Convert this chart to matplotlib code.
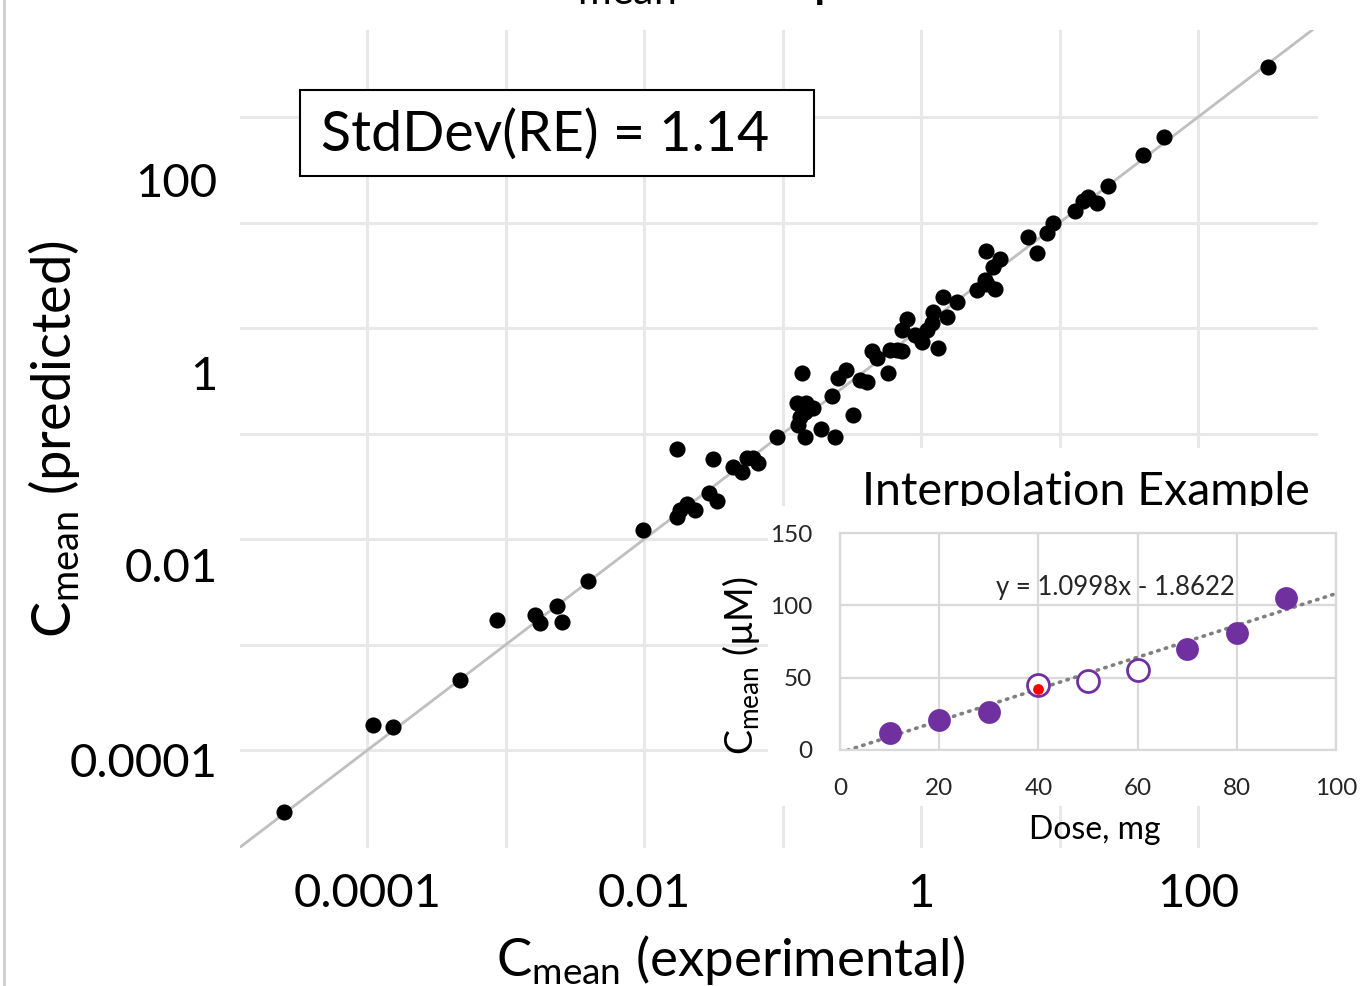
import numpy as np
import matplotlib
matplotlib.use("Agg")
import matplotlib.pyplot as plt
from matplotlib.patches import Rectangle
from matplotlib.lines import Line2D
from matplotlib.transforms import ScaledTranslation
from matplotlib.ticker import FixedLocator, NullFormatter

plt.rcParams['font.family'] = ['Lato', 'DejaVu Sans']
plt.rcParams['mathtext.fontset'] = 'custom'
plt.rcParams['mathtext.rm'] = 'Lato'
plt.rcParams['mathtext.it'] = 'Lato:italic'
plt.rcParams['mathtext.bf'] = 'Lato:bold'

# main chart: experimental vs predicted Cmean
c_exp = [2.48e-5, 1.09e-4, 1.54e-4, 4.69e-4, 8.69e-4, 1.63e-3, 1.77e-3, 2.35e-3, 2.56e-3,
         3.94e-3, 9.84e-3, 1.73e-2, 1.73e-2, 1.82e-2, 2.04e-2, 2.33e-2, 2.94e-2, 3.36e-2,
         3.15e-2, 4.39e-2, 5.10e-2, 5.55e-2, 6.12e-2, 6.65e-2, 9.12e-2,
         0.145, 0.239, 0.190, 0.323, 0.129, 0.127, 0.138, 0.145, 0.166, 0.228,
         0.252, 0.287, 0.363, 0.408, 0.443, 0.481, 0.578, 0.597, 0.671, 0.729,
         0.729, 0.792, 0.906, 1.02, 1.10, 1.20, 1.22, 1.33, 1.44, 1.54,
         1.82, 2.54, 3.00, 3.31, 3.72, 3.42, 2.95, 2.90,
         5.93, 6.88, 8.13, 8.98, 12.9, 14.8, 16.1, 18.7, 22.4, 40.1,
         56.9, 320, 0.148, 0.134]
c_pred = [2.58e-5, 1.73e-4, 1.65e-4, 4.61e-4, 1.71e-3, 1.90e-3, 1.60e-3, 2.32e-3, 1.63e-3,
          4.00e-3, 1.22e-2, 7.13e-2, 1.62e-2, 1.88e-2, 2.15e-2, 1.88e-2, 2.73e-2, 2.29e-2,
          5.73e-2, 4.81e-2, 4.31e-2, 5.86e-2, 5.86e-2, 5.25e-2, 9.27e-2,
          0.0927, 0.0927, 0.110, 0.150, 0.120, 0.195, 0.374, 0.160, 0.175, 0.227,
          0.336, 0.400, 0.321, 0.308, 0.605, 0.520, 0.374, 0.618, 0.618, 0.605,
          0.957, 1.22, 0.859, 0.737, 0.957, 1.11, 1.42, 0.646, 1.97, 1.27,
          1.76, 2.29, 2.61, 3.79, 4.51, 2.34, 5.37, 2.85,
          7.29, 5.14, 7.95, 9.89, 12.9, 16.0, 17.5, 15.3, 22.2, 43.6,
          64.6, 298, 0.195, 0.143]
major_ticks = [1e-4, 1e-2, 1, 1e2]
major_labels = ['0.0001', '0.01', '1', '100']
minor_ticks = [1e-3, 1e-1, 1e1]
std_text = 'StdDev(RE) = 1.14'

# inset: interpolation example
dose_known = [10, 20, 30, 70, 80, 90]
cmean_known = [12, 21, 26, 70, 81, 105]
dose_interp = [40, 50, 60]
cmean_interp = [45, 48, 55]
dose_check = [40]
cmean_check = [42]
trend_slope = 1.0998
trend_intercept = -1.8622

W, H = 1363, 986


def fx(px):
    return px / W


def fy(py):
    return 1 - py / H


fig = plt.figure(figsize=(W / 100, H / 100), dpi=100)

# ---- main log-log axes ----
ax = fig.add_axes([fx(240), fy(848), (1318 - 240) / W, (848 - 30) / H], zorder=0)
ax.set_xscale('log')
ax.set_yscale('log')
ax.set_xlim(1.2e-5, 735)
ax.set_ylim(1.18e-5, 668)

ax.plot([1e-6, 1e3], [1e-6, 1e3], color='#bfbfbf', lw=2, zorder=2)
ax.scatter(c_exp, c_pred, s=135, c='black', linewidths=0, zorder=3)

ax.set_xticks(major_ticks, labels=major_labels)
ax.set_yticks(major_ticks, labels=major_labels)
for axis in (ax.xaxis, ax.yaxis):
    axis.set_minor_locator(FixedLocator(minor_ticks))
    axis.set_minor_formatter(NullFormatter())
ax.grid(which='both', color='#e8e8e8', lw=2.2)
ax.set_axisbelow(True)
for s in ax.spines.values():
    s.set_visible(False)
ax.tick_params(which='both', length=0, labelsize=34)
ax.tick_params(axis='x', pad=18)
ax.tick_params(axis='y', pad=16)

# y tick labels in the reference sit below their gridlines
for lab, off in zip(ax.get_yticklabels(), [10, 26, 45, 63]):
    lab.set_transform(lab.get_transform() + ScaledTranslation(0, -off / 100, fig.dpi_scale_trans))

ax.set_xlabel(r'C$_{\mathrm{mean}}$ (experimental)', fontsize=38)
ax.xaxis.set_label_coords(0.4545, -0.104)
ax.set_ylabel(r'C$_{\mathrm{mean}}$ (predicted)', fontsize=39)
ax.yaxis.set_label_coords(-0.1466, 0.5)

# StdDev box
fig.add_artist(Rectangle((fx(300), fy(176)), 514 / W, 86 / H, transform=fig.transFigure,
                         facecolor='white', edgecolor='black', lw=1.5, zorder=5))
fig.text(fx(545), fy(135), std_text, ha='center', va='center', fontsize=40, zorder=6)

# cut-off title at the top
fig.text(fx(538), 1 + 5 / H, r'C$_{\mathrm{mean}}$ Comparison', fontsize=42,
         ha='left', va='baseline')

# left border line
fig.add_artist(Line2D([fx(4), fx(4)], [0, 1], transform=fig.transFigure, color='#cccccc', lw=2))

# ---- inset ----
fig.add_artist(Rectangle((fx(845), fy(506)), (W - 845) / W, (506 - 448) / H,
                         transform=fig.transFigure, facecolor='white', edgecolor='none', zorder=1))
fig.text(fx(1086), fy(505), 'Interpolation Example', ha='center', va='baseline',
         fontsize=33.5, zorder=2)
fig.add_artist(Rectangle((fx(768), fy(806)), (W - 768) / W, (806 - 506) / H,
                         transform=fig.transFigure, facecolor='white', edgecolor='none', zorder=3))

axin = fig.add_axes([fx(840), fy(750), (1336 - 840) / W, (750 - 533) / H], zorder=4)
axin.set_facecolor('white')
axin.set_xlim(0, 100)
axin.set_ylim(0, 150)
axin.set_xticks(range(0, 101, 20))
axin.set_yticks(range(0, 151, 50))
axin.grid(color='#d9d9d9', lw=1.6)
axin.set_axisbelow(True)
for s in axin.spines.values():
    s.set_color('#d9d9d9')
    s.set_linewidth(1.6)
axin.tick_params(length=0, labelsize=17.5, pad=20, labelcolor='#262626')

xs = np.array([0, 100])
axin.plot(xs, trend_slope * xs + trend_intercept, color='#7f7f7f', lw=2.6,
          ls=(0, (0.4, 1.8)), dash_capstyle='round', zorder=2)
axin.scatter(dose_known, cmean_known, s=270, c='#7030A0', linewidths=0, zorder=3)
axin.scatter(dose_interp, cmean_interp, s=250, facecolors='white', edgecolors='#7030A0',
             linewidths=2, zorder=3)
axin.scatter(dose_check, cmean_check, s=60, c='red', linewidths=0, zorder=4)
axin.text(55.5, 112, 'y = 1.0998x - 1.8622', fontsize=18.5, ha='center', va='center',
          color='#262626')

axin.set_xlabel('Dose, mg', fontsize=23)
axin.xaxis.set_label_coords(0.514, -0.30)
axin.set_ylabel(r'C$_{\mathrm{mean}}$ (µM)', fontsize=27)
axin.yaxis.set_label_coords(-0.157, 0.39)

fig.savefig('out.png', dpi=100)
